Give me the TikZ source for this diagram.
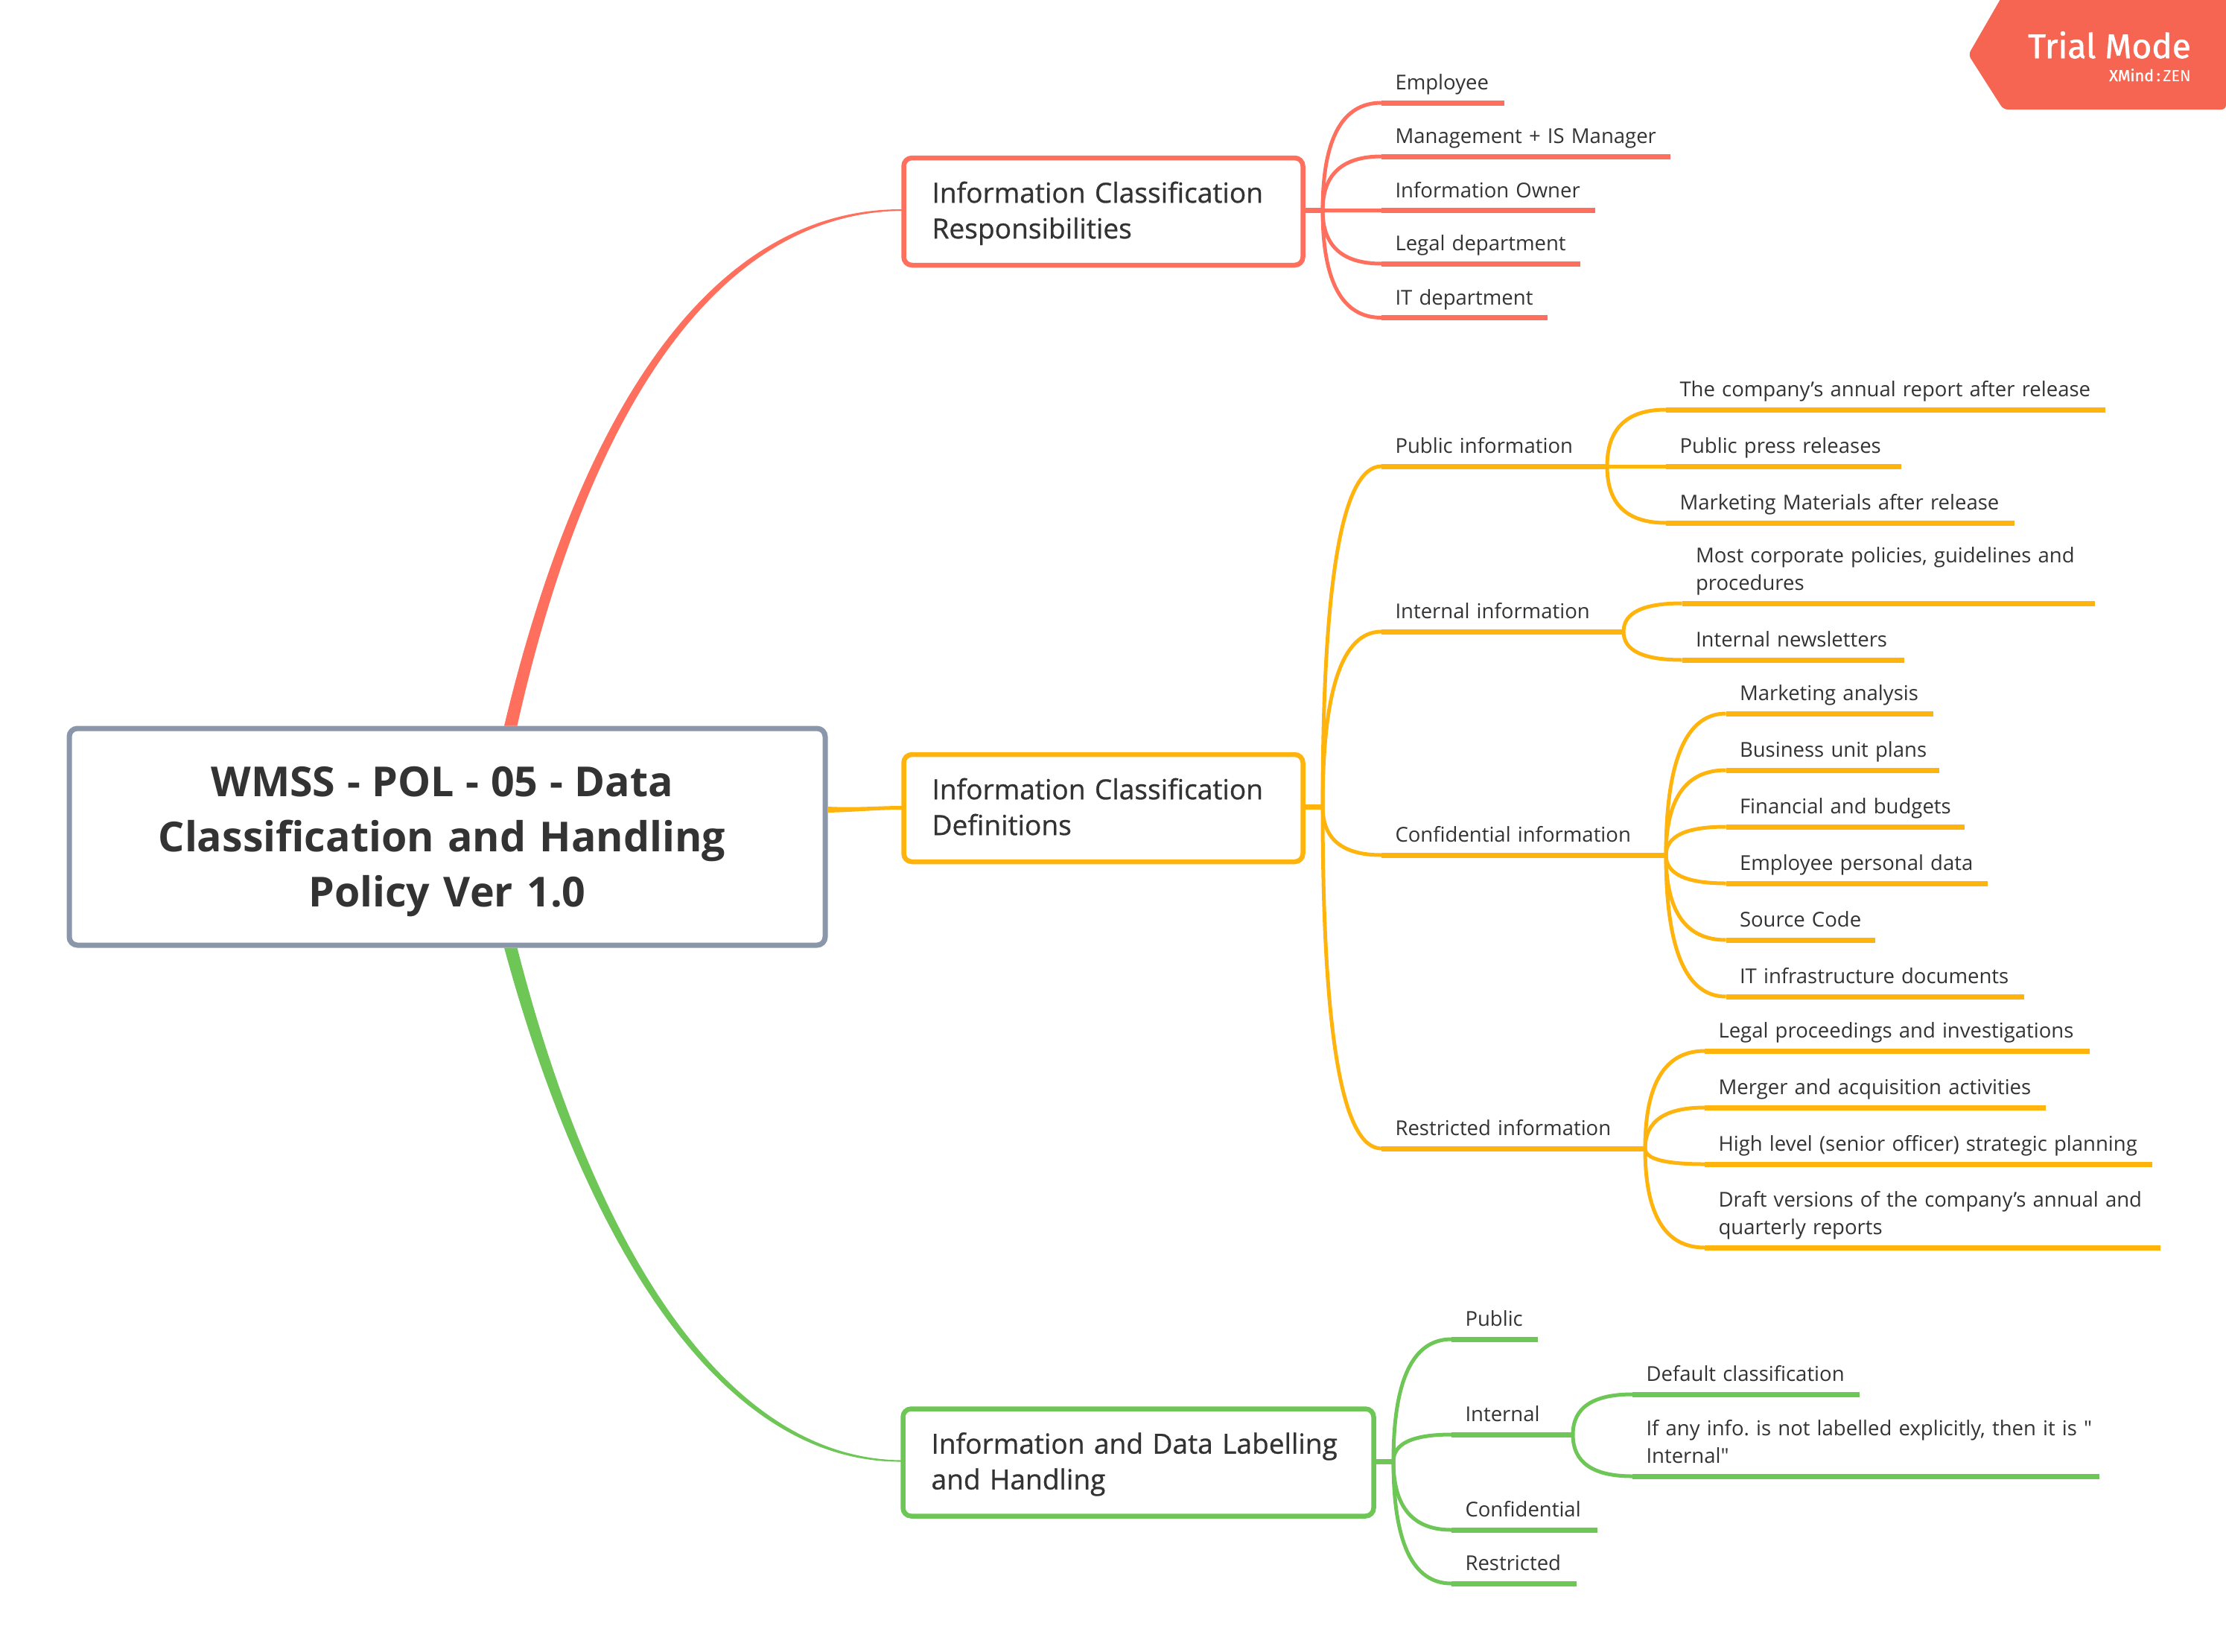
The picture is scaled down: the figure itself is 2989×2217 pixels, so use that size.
\documentclass[tikz,border=0pt]{standalone}
\usepackage{fontspec}
\setmainfont{Open Sans}
\newfontfamily\leaffont{Open Sans}
\newfontfamily\topicfont{Open Sans}[FakeBold=0.8]
\newfontfamily\badgefont{Fira Sans}[FakeBold=1.2]
\newfontfamily\zenfont{Fira Sans}
\usetikzlibrary{calc}
\frenchspacing

\definecolor{ink}{HTML}{333333}
\definecolor{slate}{HTML}{8A96A9}
\definecolor{coral}{HTML}{FF6F5E}
\definecolor{amber}{HTML}{FFB30D}
\definecolor{leaf green}{HTML}{6DC656}
\definecolor{badge}{HTML}{F56552}

\begin{document}
\begin{tikzpicture}[
	x=1pt, y=-1pt,
	central/.style={rectangle, rounded corners=11pt, draw=slate, fill=white, line width=7pt, minimum height=291pt, inner xsep=0pt, text width=1015pt, align=center, text=ink, font=\fontsize{55.5}{74}\selectfont\bfseries},
	topic/.style={rectangle, rounded corners=11pt, draw=tone, line width=6.5pt, inner xsep=0pt, inner ysep=0pt, minimum height=144pt, text width=#1, align=left, text=ink, font=\fontsize{37.1}{48}\selectfont\topicfont, execute at begin node={\leftskip=38pt\rule{0pt}{38.6pt}}, execute at end node=\strut},
	leaf/.style={anchor=south west, inner xsep=0pt, inner ysep=6pt, outer sep=0pt, text width=#1, align=left, text=ink, font=\fontsize{27.5}{37}\selectfont\leaffont\frenchspacing, execute at begin node={\leftskip=18.5pt\strut}, execute at end node=\strut, append after command={(\tikzlastnode.south west) edge[rule] (\tikzlastnode.south east)}},
	rule/.style={draw=tone, line width=7pt},
	stem/.style={draw=tone, line width=7pt},
	twig/.style={draw=tone, line width=5pt, to path={.. controls ($(\tikztostart)!.667!(\tikztostart |- \tikztotarget)$) and ($(\tikztotarget)!.667!(\tikztostart |- \tikztotarget)$) .. (\tikztotarget)}}
	]
	\useasboundingbox (0,0) rectangle (2989,2217);

	\node[central] (root) at (600.5,1123.5) {\rule{0pt}{53pt}{\spaceskip=15.6pt WMSS - POL - 05 - Data}\kern14pt\\Classification and Handling\kern14pt\\Policy Ver 1.0};

	% upper branch
	\begin{scope}
		\colorlet{tone}{coral}
		\node[topic=536pt] (duties) at (1481.5,284) {Information Classification\\Responsibilities};
		\coordinate (dutyfork) at (1776,282.5);
		\node[leaf=165pt] (employee) at (1855,138) {Employee};
		\node[leaf=388pt] (manager) at (1855,210) {Management + IS Manager};
		\node[leaf=287pt] (owner) at (1855,282.5) {Information Owner};
		\node[leaf=267pt] (legal) at (1855,354) {Legal department};
		\node[leaf=223pt] (itdept) at (1855,426.5) {IT department};

		\fill[tone] ($(root.north)+(76.5,0)$) .. controls (773,573) and (944.8,280) .. ($(duties.west)+(1,-3)$) -- ($(duties.west)+(1,-1)$) .. controls (951.2,286) and (783,577) .. ($(root.north)+(94,0)$) -- cycle;
		\draw[stem] (duties.east |- dutyfork) -- (dutyfork);
		\draw[twig] (dutyfork) to (employee.south west);
		\draw[twig] (dutyfork) to (manager.south west);
		\draw[twig] (dutyfork) to (owner.south west);
		\draw[twig] (dutyfork) to (legal.south west);
		\draw[twig] (dutyfork) to (itdept.south west);
	\end{scope}

	% middle branch
	\begin{scope}
		\colorlet{tone}{amber}
		\node[topic=536pt] (classes) at (1481.5,1085) {Information Classification\\Definitions};
		\coordinate (classfork) at (1776,1083);
		\node[leaf=303pt] (public) at (1855,626) {Public information};
		\node[leaf=325pt] (internal) at (1855,848) {Internal information};
		\node[leaf=382pt] (confidential) at (1855,1148) {Confidential information};
		\node[leaf=354pt] (restricted) at (1855,1542) {Restricted information};

		\node[leaf=590pt] (report) at (2237,550) {The company’s annual report after release};
		\node[leaf=316pt] (press) at (2237,626) {Public press releases};
		\node[leaf=468pt] (materials) at (2237,702) {Marketing Materials after release};

		\node[leaf=554.5pt] (policies) at (2258.5,810) {Most corporate policies, guidelines and\\procedures};
		\node[leaf=298.5pt] (newsletters) at (2258.5,886) {Internal newsletters};

		\node[leaf=278.5pt] (analysis) at (2317.5,958) {Marketing analysis};
		\node[leaf=286.5pt] (plans) at (2317.5,1034) {Business unit plans};
		\node[leaf=320.5pt] (budgets) at (2317.5,1110) {Financial and budgets};
		\node[leaf=351.5pt] (personal) at (2317.5,1186) {Employee personal data};
		\node[leaf=200.5pt] (source) at (2317.5,1262) {Source Code};
		\node[leaf=400.5pt] (infra) at (2317.5,1338) {IT infrastructure documents};

		\node[leaf=517pt] (proceedings) at (2289,1411) {Legal proceedings and investigations};
		\node[leaf=458pt] (merger) at (2289,1487) {Merger and acquisition activities};
		\node[leaf=601pt] (strategic) at (2289,1563) {High level (senior officer) strategic planning};
		\node[leaf=612pt] (drafts) at (2289,1675) {Draft versions of the company’s annual and\\quarterly reports};

		\fill[tone] ($(root.east)+(0,-40.5)$) .. controls (1150,1085) and (1180,1082) .. ($(classes.west)+(1,-3)$) -- ($(classes.west)+(1,2)$) .. controls (1180,1087) and (1150,1090) .. ($(root.east)+(0,-32.5)$) -- cycle;
		\draw[stem] (classes.east |- classfork) -- (classfork);
		\draw[twig] (classfork) to (public.south west);
		\draw[twig] (classfork) to (internal.south west);
		\draw[twig] (classfork) to (confidential.south west);
		\draw[twig] (classfork) to (restricted.south west);

		\draw[twig] (public.south east) to (report.south west);
		\draw[twig] (public.south east) to (press.south west);
		\draw[twig] (public.south east) to (materials.south west);

		\draw[twig] (internal.south east) to (policies.south west);
		\draw[twig] (internal.south east) to (newsletters.south west);

		\draw[twig] (confidential.south east) to (analysis.south west);
		\draw[twig] (confidential.south east) to (plans.south west);
		\draw[twig] (confidential.south east) to (budgets.south west);
		\draw[twig] (confidential.south east) to (personal.south west);
		\draw[twig] (confidential.south east) to (source.south west);
		\draw[twig] (confidential.south east) to (infra.south west);

		\draw[twig] (restricted.south east) to (proceedings.south west);
		\draw[twig] (restricted.south east) to (merger.south west);
		\draw[twig] (restricted.south east) to (strategic.south west);
		\draw[twig] (restricted.south east) to (drafts.south west);
	\end{scope}

	% lower branch
	\begin{scope}
		\colorlet{tone}{leaf green}
		\node[topic=632pt] (labels) at (1528.5,1963.5) {Information and Data Labelling\\and Handling};
		\coordinate (labelfork) at (1871,1962);
		\node[leaf=116pt] (lpublic) at (1949,1798) {Public};
		\node[leaf=163pt] (linternal) at (1949,1926) {Internal};
		\node[leaf=196pt] (lconfidential) at (1949,2054) {Confidential};
		\node[leaf=168pt] (lrestricted) at (1949,2126) {Restricted};
		\node[leaf=305pt] (default) at (2192,1872) {Default classification};
		\node[leaf=627pt] (unlabelled) at (2192,1982) {\mbox{If any info. is not labelled explicitly, then it is "}\\Internal"};

		\fill[tone] ($(root.south)+(76.5,0)$) .. controls (783,1662) and (963,1964) .. ($(labels.west)+(1,-1)$) -- ($(labels.west)+(1,-3)$) .. controls (967,1958) and (793,1658) .. ($(root.south)+(94,0)$) -- cycle;
		\draw[stem] (labels.east |- labelfork) -- (labelfork);
		\draw[twig] (labelfork) to (lpublic.south west);
		\draw[twig] (labelfork) to (linternal.south west);
		\draw[twig] (labelfork) to (lconfidential.south west);
		\draw[twig] (labelfork) to (lrestricted.south west);
		\draw[twig] (linternal.south east) to (default.south west);
		\draw[twig] (linternal.south east) to (unlabelled.south west);
	\end{scope}

	% watermark
	\fill[badge, rounded corners=6pt] (2995,-8) -- (2690,-8) -- (2643,73.5) -- (2690,147) -- (2989,147) -- (2989,-8) -- cycle;
	\node[anchor=base east, inner sep=0pt, text=white, font=\fontsize{46}{46}\selectfont\badgefont] (trial) at (2942,78) {Trial Mode};
	\node[anchor=base east, inner sep=0pt, text=white, font=\fontsize{21.5}{21.5}\selectfont\badgefont] (zen) at (2942,109) {XMind\,:\,{\zenfont ZEN}};
\end{tikzpicture}
\end{document}
